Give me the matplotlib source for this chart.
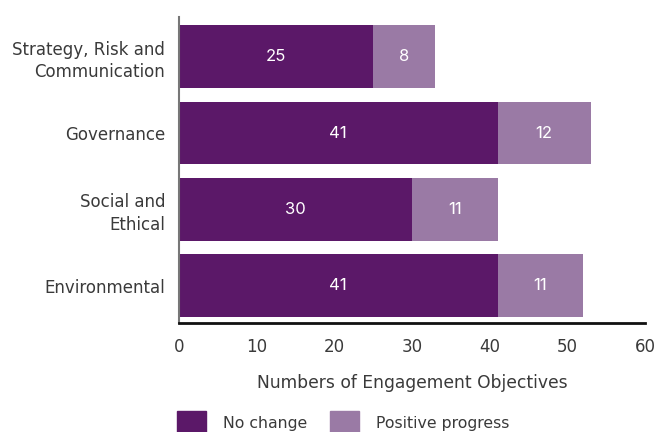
import matplotlib.pyplot as plt
from matplotlib.patches import Patch

plt.rcParams["font.family"] = ["DejaVu Sans"]

categories = ["Strategy, Risk and\nCommunication", "Governance", "Social and\nEthical", "Environmental"]
no_change = [25, 41, 30, 41]
positive_progress = [8, 12, 11, 11]
x_ticks = [0, 10, 20, 30, 40, 50, 60]

dark = "#5b1868"
light = "#9a7aa5"
text_color = "#3a3a3a"

fig = plt.figure(figsize=(6.57, 4.32), dpi=100)
ax = fig.add_axes([0.2725, 0.2523, 0.7095, 0.7083])

pos = list(range(len(categories)))[::-1]
ax.barh(pos, no_change, height=0.82, color=dark)
ax.barh(pos, positive_progress, left=no_change, height=0.82, color=light)

for y, a, b in zip(pos, no_change, positive_progress):
    ax.text(a / 2, y, str(a), ha="center", va="center", color="white", fontsize=12, family="Inter")
    ax.text(a + b / 2, y, str(b), ha="center", va="center", color="white", fontsize=12, family="Inter")

ax.set_xlim(0, 60)
ax.set_ylim(-0.49, 3.52)
ax.set_xticks(x_ticks)
ax.set_yticks(pos)
ax.set_yticklabels(categories, fontsize=12, color=text_color, linespacing=1.3)
ax.tick_params(axis="x", length=0, pad=11, labelsize=12, labelcolor=text_color)
ax.tick_params(axis="y", length=0, pad=10)
ax.set_xlabel("Numbers of Engagement Objectives", fontsize=12.3, color=text_color, labelpad=13)

for s in ["top", "right"]:
    ax.spines[s].set_visible(False)
ax.spines["left"].set_color("#777777")
ax.spines["left"].set_linewidth(1.5)
ax.spines["bottom"].set_color("#111111")
ax.spines["bottom"].set_linewidth(2)

handles = [Patch(color=dark, label="No change"), Patch(color=light, label="Positive progress")]
fig.legend(handles=handles, loc="upper left", bbox_to_anchor=(0.26, 0.062),
           ncol=2, frameon=False, fontsize=11.3, handlelength=1.85, handleheight=1.85,
           handletextpad=1.05, columnspacing=1.5, labelcolor=text_color, borderaxespad=0)

fig.savefig("out.png", dpi=100)
